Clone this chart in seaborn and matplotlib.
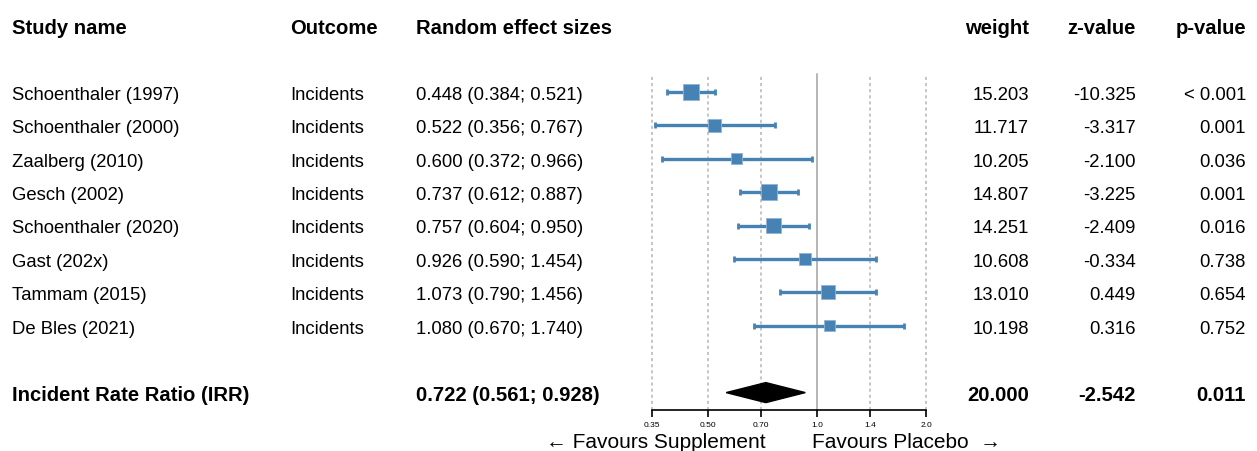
import seaborn as sns
import matplotlib.pyplot as plt
import pandas as pd
import numpy as np

studies = ['Schoenthaler (1997)', 'Schoenthaler (2000)', 'Zaalberg (2010)', 'Gesch (2002)',
           'Schoenthaler (2020)', 'Gast (202x)', 'Tammam (2015)', 'De Bles (2021)']
outcome = ['Incidents'] * 8
est = [0.448, 0.522, 0.600, 0.737, 0.757, 0.926, 1.073, 1.080]
lower = [0.384, 0.356, 0.372, 0.612, 0.604, 0.590, 0.790, 0.670]
upper = [0.521, 0.767, 0.966, 0.887, 0.950, 1.454, 1.456, 1.740]
weight = [15.203, 11.717, 10.205, 14.807, 14.251, 10.608, 13.010, 10.198]
zval = ['-10.325', '-3.317', '-2.100', '-3.225', '-2.409', '-0.334', '0.449', '0.316']
pval = ['< 0.001', '0.001', '0.036', '0.001', '0.016', '0.738', '0.654', '0.752']

summary_label = 'Incident Rate Ratio (IRR)'
summary_est, summary_lo, summary_hi = 0.722, 0.561, 0.928
summary_row = ['20.000', '-2.542', '0.011']

ticks = [0.35, 0.50, 0.70, 1.0, 1.4, 2.0]
tick_labels = ['0.35', '0.50', '0.70', '1.0', '1.4', '2.0']

headers = ['Study name', 'Outcome', 'Random effect sizes', 'weight', 'z-value', 'p-value']

df = pd.DataFrame({'study': studies, 'est': est, 'lo': lower, 'hi': upper, 'weight': weight})
df['row'] = np.arange(len(df))
df['area'] = (df['weight'] * 0.78) ** 2

sns.set_style('white')
plt.rcParams['font.family'] = ['Liberation Sans', 'DejaVu Sans']
plt.rcParams['text.color'] = 'black'
plt.rcParams['xtick.color'] = 'black'

W, H = 1257, 452
fig = plt.figure(figsize=(W / 100, H / 100), dpi=100)

# row geometry in pixels
row0, step = 93, 33.4
def px_to_row(py):
    return (py - row0) / step

# text layer over whole figure
tax = fig.add_axes([0, 0, 1, 1])
tax.set_xlim(0, W)
tax.set_ylim(px_to_row(H), px_to_row(0))
tax.axis('off')

blue = '#4682B4'
fs = 13.3
fsb = 14.6
dy = 0.07  # small nudge so text centres sit on the rows
hrow = -2
cols = [(12, 'left'), (290, 'left'), (416, 'left'), (1029, 'right'), (1136, 'right'), (1246, 'right')]
for (x, ha), h in zip(cols, headers):
    tax.text(x, hrow + dy, h, ha=ha, va='center', fontsize=fsb, fontweight='bold')

for i in range(len(df)):
    vals = [studies[i], outcome[i], f'{est[i]:.3f} ({lower[i]:.3f}; {upper[i]:.3f})',
            f'{weight[i]:.3f}', zval[i], pval[i]]
    for (x, ha), v in zip(cols, vals):
        tax.text(x, i + dy, v, ha=ha, va='center', fontsize=fs)

srow = len(df) + 1
svals = [summary_label, '', f'{summary_est:.3f} ({summary_lo:.3f}; {summary_hi:.3f})'] + summary_row
for (x, ha), v in zip(cols, svals):
    tax.text(x, srow + dy, v, ha=ha, va='center', fontsize=fsb, fontweight='bold')

# forest panel
top_px, bot_px = 75, 411
left_px, right_px = 652, 926
ax = fig.add_axes([left_px / W, 1 - bot_px / H, (right_px - left_px) / W, (bot_px - top_px) / H])
ax.set_xscale('log')
ax.set_xlim(ticks[0], ticks[-1])
ax.set_ylim(px_to_row(bot_px), px_to_row(top_px))
ax.patch.set_alpha(0)

for t in ticks:
    if t == 1.0:
        ax.axvline(t, color='#b5b5b5', lw=1.4, zorder=0, clip_on=False)
    else:
        ax.axvline(t, color='#b5b5b5', lw=1.1, ls=(0, (2, 2)), zorder=0, clip_on=False)

ax.errorbar(df['est'], df['row'], xerr=[df['est'] - df['lo'], df['hi'] - df['est']],
            fmt='none', ecolor=blue, elinewidth=2.4, capsize=2.5, capthick=2, zorder=2)
sns.scatterplot(data=df, x='est', y='row', size='area', sizes=(df['area'].min(), df['area'].max()),
                marker='s', color=blue, edgecolor='#8fb3d6', linewidth=0.6, legend=False, ax=ax, zorder=3)

dh = 0.3
ax.fill([summary_lo, summary_est, summary_hi, summary_est],
        [srow, srow - dh, srow, srow + dh], color='black', zorder=3)

for s in ['top', 'right', 'left']:
    ax.spines[s].set_visible(False)
ax.spines['bottom'].set_linewidth(1.2)
ax.spines['bottom'].set_color('black')
ax.set_yticks([])
ax.set_xticks(ticks)
ax.set_xticklabels(tick_labels)
ax.xaxis.set_minor_locator(plt.NullLocator())
ax.tick_params(axis='x', direction='out', length=5, width=1.2, labelsize=6, pad=3, bottom=True)
ax.set_xlabel('')
ax.set_ylabel('')

fig.text(766 / W, 1 - 443 / H, '\u2190 Favours Supplement', ha='right', va='center', fontsize=15)
fig.text(812 / W, 1 - 443 / H, 'Favours Placebo  \u2192', ha='left', va='center', fontsize=15)

fig.savefig('out.png', dpi=100)
